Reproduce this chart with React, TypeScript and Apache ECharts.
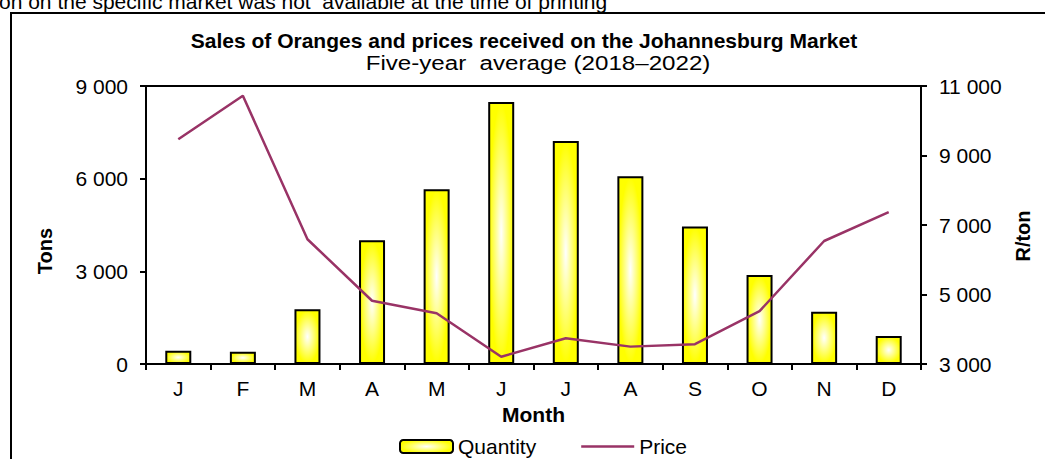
import React, { useEffect, useRef } from "react";
import * as echarts from "echarts";

const months = ["J", "F", "M", "A", "M", "J", "J", "A", "S", "O", "N", "D"];
const quantity = [430, 400, 1770, 4010, 5660, 8480, 7220, 6080, 4450, 2880, 1690, 910];
const price = [9470, 10720, 6590, 4820, 4460, 3210, 3740, 3500, 3570, 4520, 6540, 7370];
const tonsTicks = { min: 0, max: 9000, interval: 3000 };
const priceTicks = { min: 3000, max: 11000, interval: 2000 };

const FONT = "'Liberation Sans', Arial, sans-serif";

const fmt = (v: number) => String(v).replace(/\B(?=(\d{3})+(?!\d))/g, " ");

export default function App() {
  const ref = useRef<HTMLDivElement>(null);
  useEffect(() => {
    if (!ref.current) return;
    const chart = echarts.init(ref.current, undefined, { renderer: "svg" });
    const axisText = { color: "#000", fontSize: 21, fontFamily: FONT };
    chart.setOption({
      animation: false,
      backgroundColor: "#fff",
      textStyle: { fontFamily: FONT, color: "#000" },
      grid: {
        left: 146,
        right: 124,
        top: 86,
        bottom: 95,
        show: true,
        borderColor: "#000",
        borderWidth: 2,
        backgroundColor: "transparent",
      },
      xAxis: {
        type: "category",
        data: months,
        name: "Month",
        nameLocation: "middle",
        nameGap: 38,
        nameTextStyle: { ...axisText, fontWeight: "bold" },
        axisLine: { lineStyle: { color: "#000", width: 2 } },
        axisTick: { show: true, length: 6, lineStyle: { color: "#000", width: 2 } },
        axisLabel: { ...axisText, margin: 14 },
      },
      yAxis: [
        {
          type: "value",
          min: tonsTicks.min,
          max: tonsTicks.max,
          interval: tonsTicks.interval,
          axisLine: { show: true, lineStyle: { color: "#000", width: 2 } },
          axisTick: { show: true, length: 6, lineStyle: { color: "#000", width: 2 } },
          axisLabel: { ...axisText, margin: 18, formatter: fmt },
          splitLine: { show: false },
        },
        {
          type: "value",
          min: priceTicks.min,
          max: priceTicks.max,
          interval: priceTicks.interval,
          position: "right",
          axisLine: { show: true, lineStyle: { color: "#000", width: 2 } },
          axisTick: { show: true, length: 6, lineStyle: { color: "#000", width: 2 } },
          axisLabel: { ...axisText, margin: 18, formatter: fmt },
          splitLine: { show: false },
        },
      ],
      legend: {
        left: 399,
        top: 436,
        padding: 0,
        itemWidth: 53,
        itemHeight: 13,
        itemGap: 45,
        itemTextGap: 5,
        textStyle: { ...axisText, lineHeight: 21 },
        data: [
          { name: "Quantity" },
          {
            name: "Price",
            icon: "path://M0,0 M0,5.25 L53,5.25 L53,7.75 L0,7.75 Z M53,13",
            itemStyle: { color: "#993366", borderWidth: 0 },
          },
        ],
      },
      graphic: [
        {
          type: "rect",
          shape: { x: 11, y: 13, width: 1100, height: 500 },
          style: { fill: "none", stroke: "#000", lineWidth: 2 },
          z: -1,
        },
        {
          type: "text",
          x: -1,
          y: 1,
          style: {
            text: "on on the specific market was not  available at the time of printing",
            fontSize: 21,
            fontFamily: FONT,
            fill: "#000",
            verticalAlign: "middle",
          },
        },
        {
          type: "text",
          x: 524,
          y: 40,
          style: {
            text: "Sales of Oranges and prices received on the Johannesburg Market",
            fontSize: 21,
            fontWeight: "bold",
            fontFamily: FONT,
            fill: "#000",
            align: "center",
            verticalAlign: "middle",
          },
        },
        {
          type: "text",
          x: 538,
          y: 63,
          scaleX: 1.15,
          style: {
            text: "Five-year  average (2018–2022)",
            fontSize: 21,
            fontFamily: FONT,
            fill: "#000",
            align: "center",
            verticalAlign: "middle",
          },
        },
        {
          type: "text",
          x: 45,
          y: 251,
          rotation: Math.PI / 2,
          style: {
            text: "Tons",
            fontSize: 20,
            fontWeight: "bold",
            fontFamily: FONT,
            fill: "#000",
            align: "center",
            verticalAlign: "middle",
          },
        },
        {
          type: "text",
          x: 1023,
          y: 236,
          rotation: Math.PI / 2,
          style: {
            text: "R/ton",
            fontSize: 20,
            fontWeight: "bold",
            fontFamily: FONT,
            fill: "#000",
            align: "center",
            verticalAlign: "middle",
          },
        },
      ],
      series: [
        {
          name: "Quantity",
          type: "bar",
          data: quantity,
          barWidth: 26,
          yAxisIndex: 0,
          itemStyle: {
            color: {
              type: "radial",
              x: 0.5,
              y: 0.5,
              r: 0.5,
              colorStops: [
                { offset: 0, color: "#ffffff" },
                { offset: 1, color: "#ffff00" },
              ],
            },
            borderColor: "#000",
            borderWidth: 2,
          },
        },
        {
          name: "Price",
          type: "line",
          data: price,
          yAxisIndex: 1,
          symbol: "none",
          lineStyle: { color: "#993366", width: 2.5 },
          itemStyle: { color: "#993366" },
          z: 3,
        },
      ],
    });
    return () => chart.dispose();
  }, []);
  return <div ref={ref} style={{ width: 1045, height: 459, position: "absolute", left: 0, top: 0 }} />;
}
